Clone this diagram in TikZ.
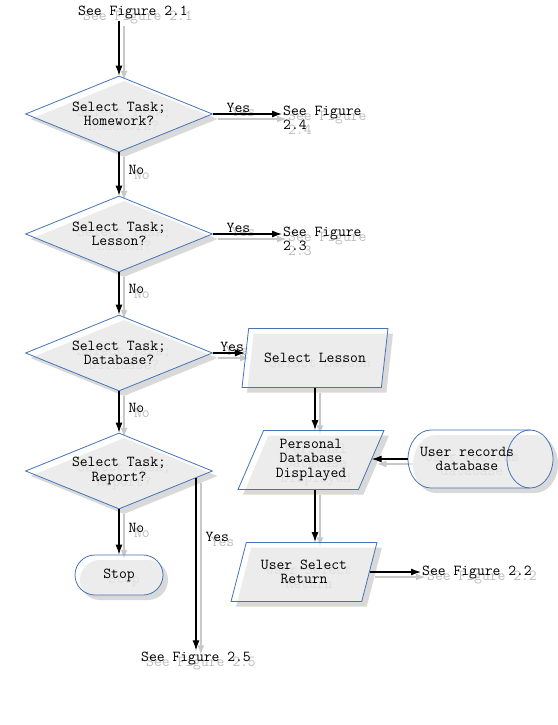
\documentclass[tikz,border=0pt]{standalone}
\usepackage{fontspec}
\usetikzlibrary{shapes.geometric,shapes.misc,arrows.meta,calc}
\definecolor{boxblue}{RGB}{70,116,182}
\definecolor{shadegray}{RGB}{217,217,217}
\definecolor{shadetext}{RGB}{190,190,190}
\definecolor{shadeline}{RGB}{200,200,200}
\tikzset{
  txt/.style={font=\ttfamily\fontsize{15.2}{14.5}\selectfont, text=black, inner sep=1pt, align=center},
  body/.style={draw=boxblue, line width=0.8pt, fill=white, fill opacity=0.5, text opacity=1},
  decision/.style={diamond, body, txt, aspect=2.46, minimum width=187, minimum height=76, inner sep=0pt},
  io/.style={trapezium, trapezium left angle=66, trapezium right angle=114, trapezium stretches=true, body, txt, minimum width=146, minimum height=59},
  stopbox/.style={rounded rectangle, body, txt, minimum width=90, minimum height=40},
  flow/.style={draw=black, line width=1.1pt, -{Latex[length=10pt,width=7pt]}},
  yeslbl/.style={txt, above},
  nolbl/.style={txt, right, xshift=8pt},
}
% one copy of the chart, #1 = prefix of the node names
\newcommand\flowlayer[1]{%
  %start
  \node[txt] (#1f21) at (133,13) {See Figure 2.1};
  %decisions
  \node[decision] (#1d1) at (119,114) {Select Task;\\Homework?};
  \node[decision] (#1d2) at (119,234) {Select Task;\\Lesson?};
  \node[decision] (#1d3) at (119,353) {Select Task;\\Database?};
  \node[decision] (#1d4) at (119,471) {Select Task;\\Report?};
  \node[stopbox] (#1stop) at (119,575) {Stop};
  %other figures
  \node[txt,anchor=west,align=left] (#1f24) at (282,118) {See Figure\\2.4};
  \node[txt,anchor=west,align=left] (#1f23) at (282,239) {See Figure\\2.3};
  \node[txt] (#1f25) at (196,658) {See Figure 2.5};
  \node[txt,anchor=west] (#1f22) at (421,572) {See Figure 2.2};
  %database branch
  \node[io] (#1lesson) at (315,358) {Select Lesson};
  \node[io] (#1shown) at (311,460) {Personal\\Database\\Displayed};
  \node[io] (#1ret) at (304,572) {User Select\\Return};
  %records store
  \draw[body] (431,430) -- (530,430) arc[start angle=-90, end angle=90, x radius=23, y radius=29]
    -- (431,488) arc[start angle=90, end angle=270, x radius=23, y radius=29] -- cycle;
  \draw[body, fill=none] (530,430) arc[start angle=-90, end angle=-270, x radius=23, y radius=29];
  \coordinate (#1dbend) at (408,459);
  \node[txt] (#1db) at (467,459) {User records\\database};
  %connectors
  \draw[flow] (#1f21.south -| #1d1.north) -- (#1d1.north);
  \draw[flow] (#1d1.south) -- node[nolbl,pos=0.4] (#1n1) {No} (#1d2.north);
  \draw[flow] (#1d2.south) -- node[nolbl,pos=0.4] (#1n2) {No} (#1d3.north);
  \draw[flow] (#1d3.south) -- node[nolbl,pos=0.4] (#1n3) {No} (#1d4.north);
  \draw[flow] (#1d4.south) -- node[nolbl,pos=0.4] (#1n4) {No} (#1stop.north);
  \draw[flow] (#1d1.east) -- node[yeslbl,pos=0.37] (#1y1) {Yes} (#1d1.east -| #1f24.west);
  \draw[flow] (#1d2.east) -- node[yeslbl,pos=0.37] (#1y2) {Yes} (#1d2.east -| #1f23.west);
  \draw[flow] (#1d3.east) -- node[yeslbl,pos=0.6] (#1y3) {Yes} (#1d3.east -| #1lesson.west);
  \coordinate (#1rep) at ($(#1d4.east)!0.18!(#1d4.south)$);
  \draw[flow] (#1rep) -- node[nolbl,pos=0.34] (#1y4) {Yes} (#1rep |- #1f25.north);
  \draw[flow] (#1lesson.south) -- (#1lesson.south |- #1shown.north);
  \draw[flow] (#1dbend) -- (#1dbend -| #1shown.east);
  \draw[flow] (#1shown.south -| #1lesson.south) -- (#1ret.north -| #1lesson.south);
  \draw[flow] (#1ret.east) -- (#1ret.east -| #1f22.west);
}
\begin{document}
\begin{tikzpicture}[x=1pt,y=-1pt]
\fill[white] (0,0) rectangle (557,725);
\useasboundingbox (0,0) rectangle (557,725);
%shadow
\begin{scope}[shift={(5,5)},
  body/.style={draw=none, fill=shadegray},
  txt/.style={font=\ttfamily\fontsize{15.2}{14.5}\selectfont, text=shadetext, inner sep=1pt, align=center},
  flow/.style={draw=shadeline, line width=2pt, -{Latex[length=10pt,width=7pt]}}]
\flowlayer{s}
\end{scope}
%chart
\flowlayer{}
\end{tikzpicture}
\end{document}
